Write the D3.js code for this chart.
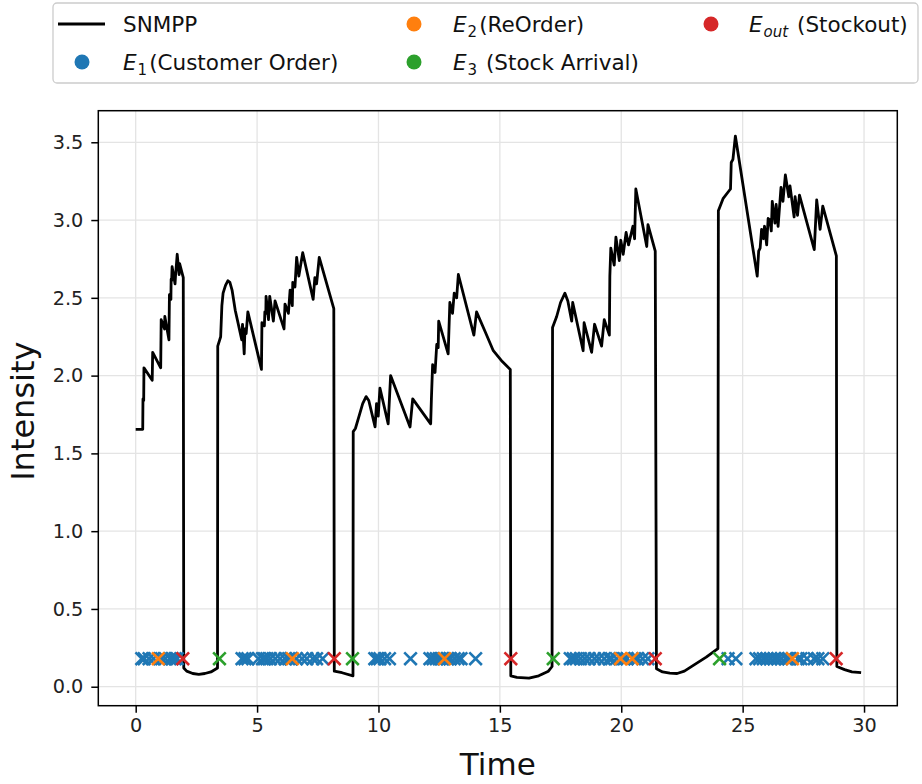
<!DOCTYPE html>
<html>
<head>
<meta charset="utf-8">
<script src="https://cdn.jsdelivr.net/npm/d3@7/dist/d3.min.js"></script>
<style>
  body { margin: 0; background: #fff; }
  text { font-family: "DejaVu Sans", sans-serif; }
</style>
</head>
<body>
<svg id="chart" width="922" height="784"></svg>
<script>
// ---------------- data ----------------
const curveT = [
  0, 0.29, 0.30, 0.33, 0.34, 0.68, 0.70, 1.03, 1.05, 1.19, 1.20, 1.37, 1.39, 1.45, 1.46, 1.48, 1.50, 1.62, 1.64, 1.71, 1.79, 1.81, 1.96,
  1.98, 2.10, 2.35, 2.60, 2.85, 3.10, 3.37,
  3.38, 3.50, 3.55, 3.60, 3.70, 3.80, 3.88, 3.97, 4.10, 4.37, 4.40, 4.47, 4.50, 4.55, 4.62, 5.18, 5.20, 5.30, 5.32, 5.36, 5.37, 5.47, 5.52, 5.67, 5.74, 6.11, 6.15, 6.29, 6.36, 6.45, 6.47, 6.56, 6.63, 6.72, 6.88, 7.31, 7.38, 7.45, 7.56, 8.16,
  8.18, 8.50, 8.95,
  8.96, 9.05, 9.20, 9.35, 9.49, 9.60, 9.86, 9.92, 9.99, 10.06, 10.40, 10.50, 11.30, 11.41, 12.15, 12.18, 12.23, 12.33, 12.40, 12.46, 12.48, 12.87, 12.94, 13.05, 13.12, 13.22, 13.29, 13.93, 14.04, 14.40, 14.73, 15.10, 15.43,
  15.45, 15.70, 16.20, 16.60, 17.00, 17.15,
  17.17, 17.34, 17.50, 17.68, 17.80, 17.96, 18.00, 18.43, 18.47, 18.78, 18.90, 19.19, 19.30, 19.51, 19.53, 19.57, 19.71, 19.78, 19.92, 19.98, 20.08, 20.20, 20.30, 20.48, 20.55, 20.60, 21.05, 21.10, 21.40,
  21.45, 21.70, 22.00, 22.30, 22.60, 23.00, 23.50, 23.98,
  24.00, 24.20, 24.45, 24.50, 24.53, 24.60, 24.70, 25.60, 25.66, 25.72, 25.78, 25.86, 25.90, 25.99, 26.05, 26.12, 26.18, 26.22, 26.33, 26.38, 26.46, 26.58, 26.66, 26.76, 26.90, 26.95, 27.12, 27.16, 27.26, 27.34, 27.95, 28.05, 28.19, 28.30, 28.86,
  28.88, 29.20, 29.50, 29.88
];
const curveV = [
  1.655, 1.655, 1.85, 1.84, 2.05, 1.97, 2.15, 2.05, 2.36, 2.30, 2.38, 2.23, 2.52, 2.49, 2.62, 2.61, 2.70, 2.59, 2.64, 2.78, 2.65, 2.72, 2.63,
  0.12, 0.10, 0.085, 0.08, 0.085, 0.095, 0.12,
  2.19, 2.25, 2.45, 2.53, 2.58, 2.61, 2.60, 2.55, 2.42, 2.23, 2.33, 2.14, 2.30, 2.27, 2.41, 2.04, 2.34, 2.32, 2.41, 2.40, 2.51, 2.36, 2.51, 2.35, 2.48, 2.30, 2.46, 2.40, 2.55, 2.45, 2.60, 2.57, 2.76, 2.64, 2.79, 2.49, 2.63, 2.59, 2.76, 2.43,
  0.10, 0.09, 0.07,
  1.64, 1.66, 1.74, 1.82, 1.865, 1.84, 1.67, 1.82, 1.74, 1.92, 1.69, 2.00, 1.67, 1.85, 1.69, 1.85, 2.07, 2.02, 2.20, 2.18, 2.35, 2.14, 2.47, 2.40, 2.53, 2.50, 2.65, 2.26, 2.41, 2.28, 2.16, 2.09, 2.04,
  0.07, 0.06, 0.055, 0.07, 0.10, 0.13,
  2.31, 2.38, 2.47, 2.53, 2.48, 2.35, 2.47, 2.16, 2.34, 2.15, 2.33, 2.19, 2.36, 2.26, 2.64, 2.82, 2.71, 2.89, 2.74, 2.87, 2.78, 2.92, 2.84, 2.96, 2.88, 3.20, 2.83, 2.97, 2.80,
  0.115, 0.095, 0.087, 0.085, 0.10, 0.14, 0.19, 0.245,
  3.06, 3.14, 3.19, 3.20, 3.37, 3.39, 3.54, 2.64, 2.80, 2.82, 2.94, 2.88, 2.96, 2.84, 3.01, 3.00, 2.93, 3.12, 2.98, 3.10, 2.96, 3.21, 3.12, 3.29, 3.15, 3.22, 3.02, 3.15, 3.03, 3.16, 2.81, 3.13, 2.94, 3.09, 2.77,
  0.13, 0.11, 0.095, 0.09
];
const eventLevel = 0.18;
const e1Times = [
  0.25, 0.35, 0.55, 0.73, 1.07, 1.22, 1.41, 1.50, 1.62, 1.71,
  4.38, 4.50, 4.62, 5.05, 5.22, 5.30, 5.40, 5.55, 5.75, 5.95, 6.15, 6.30, 6.40, 6.62, 6.85, 7.05, 7.30, 7.45, 7.70,
  9.85, 9.95, 10.06, 10.25, 10.45, 11.32, 12.12, 12.25, 12.38, 12.50, 12.62, 12.85, 12.95, 13.12, 13.28, 13.40, 14.00,
  17.90, 18.02, 18.15, 18.32, 18.50, 18.68, 18.90, 19.08, 19.30, 19.50, 19.60, 19.80, 20.12, 20.24, 20.55, 20.68, 20.88, 21.10,
  24.40, 24.72, 25.55, 25.70, 25.85, 26.00, 26.15, 26.30, 26.45, 26.60, 26.78, 26.90, 27.28, 27.40, 27.65, 27.95, 28.10, 28.30
];
const e2Times = [0.93, 6.45, 12.72, 19.97, 20.45, 27.05];
const e3Times = [3.45, 8.93, 17.20, 24.05];
const eOutTimes = [1.94, 8.18, 15.45, 21.40, 28.85];
const xTicks = [0, 5, 10, 15, 20, 25, 30];
const yTicks = [0, 0.5, 1.0, 1.5, 2.0, 2.5, 3.0, 3.5];
const legendItems = [
  {key: "snmpp", col: 0, row: 0, sub: "", rest: "SNMPP"},
  {key: "e1", col: 0, row: 1, sub: "1", rest: "(Customer Order)"},
  {key: "e2", col: 1, row: 0, sub: "2", rest: "(ReOrder)"},
  {key: "e3", col: 1, row: 1, sub: "3", rest: " (Stock Arrival)"},
  {key: "eout", col: 2, row: 0, sub: "out", rest: " (Stockout)"}
];

// ---------------- layout ----------------
const colors = {e1: "#1f77b4", e2: "#ff7f0e", e3: "#2ca02c", eout: "#d62728"};
const plot = {left: 98.3, right: 897.3, top: 110.7, bottom: 705.7};
const svg = d3.select("#chart");

const x = d3.scaleLinear().domain([-1.54, 31.37]).range([plot.left, plot.right]);
const y = d3.scaleLinear().domain([-0.122, 3.703]).range([plot.bottom, plot.top]);

// grid
const g = svg.append("g");
g.selectAll("line.vg").data(xTicks).join("line")
  .attr("x1", d => x(d)).attr("x2", d => x(d))
  .attr("y1", plot.top).attr("y2", plot.bottom)
  .attr("stroke", "#e4e4e4").attr("stroke-width", 1.3);
g.selectAll("line.hg").data(yTicks).join("line")
  .attr("y1", d => y(d)).attr("y2", d => y(d))
  .attr("x1", plot.left).attr("x2", plot.right)
  .attr("stroke", "#e4e4e4").attr("stroke-width", 1.3);

// curve
const pts = curveT.map((t, i) => [t, curveV[i]]);
svg.append("path")
  .datum(pts)
  .attr("fill", "none")
  .attr("stroke", "#000")
  .attr("stroke-width", 2.8)
  .attr("stroke-linejoin", "round")
  .attr("d", d3.line().x(d => x(d[0])).y(d => y(d[1])));

// event markers (x shapes)
const ms = 6.3;
function drawX(times, color) {
  const grp = svg.append("g");
  grp.selectAll("path").data(times).join("path")
    .attr("transform", d => `translate(${x(d)},${y(eventLevel)})`)
    .attr("d", `M${-ms},${-ms}L${ms},${ms}M${-ms},${ms}L${ms},${-ms}`)
    .attr("stroke", color).attr("stroke-width", 2.6).attr("fill", "none");
}
drawX(e1Times, colors.e1);
drawX(e2Times, colors.e2);
drawX(e3Times, colors.e3);
drawX(eOutTimes, colors.eout);

// axes
const xAxis = d3.axisBottom(x).tickValues(xTicks).tickSize(7).tickPadding(6).tickFormat(d3.format("d"));
const yAxis = d3.axisLeft(y).tickValues(yTicks).tickSize(7).tickPadding(8).tickFormat(d3.format(".1f"));
const gx = svg.append("g").attr("transform", `translate(0,${plot.bottom})`).call(xAxis);
const gy = svg.append("g").attr("transform", `translate(${plot.left},0)`).call(yAxis);
[gx, gy].forEach(a => {
  a.select(".domain").remove();
  a.selectAll(".tick line").attr("stroke", "#000").attr("stroke-width", 1.5);
  a.selectAll(".tick text").attr("fill", "#222").style("font-size", "19.3px").style("font-family", "DejaVu Sans");
});

// frame
svg.append("rect")
  .attr("x", plot.left).attr("y", plot.top)
  .attr("width", plot.right - plot.left).attr("height", plot.bottom - plot.top)
  .attr("fill", "none").attr("stroke", "#000").attr("stroke-width", 1.5);

// axis labels
svg.append("text").attr("x", (plot.left + plot.right) / 2).attr("y", 775)
  .attr("text-anchor", "middle").style("font-size", "31px").attr("fill", "#111").text("Time");
svg.append("text").attr("transform", `translate(34,${(plot.top + plot.bottom) / 2 + 3}) rotate(-90)`)
  .attr("text-anchor", "middle").style("font-size", "32px").attr("fill", "#111").text("Intensity");

// legend
svg.append("rect").attr("x", 53).attr("y", 3).attr("width", 865).attr("height", 80)
  .attr("rx", 4).attr("fill", "#fff").attr("stroke", "#cccccc").attr("stroke-width", 1.3);
const colX = [82, 414, 711];
const textX = [123, 453, 749];
const rowY = [24, 62];
const lg = svg.append("g").style("font-size", "21.5px");
legendItems.forEach(it => {
  const cy = rowY[it.row];
  if (it.key === "snmpp") {
    lg.append("line").attr("x1", 58).attr("x2", 105).attr("y1", cy).attr("y2", cy)
      .attr("stroke", "#000").attr("stroke-width", 2.8);
  } else {
    lg.append("circle").attr("cx", colX[it.col]).attr("cy", cy).attr("r", 7.5).attr("fill", colors[it.key]);
  }
  const t = lg.append("text").attr("x", textX[it.col]).attr("y", cy + 7.5).attr("fill", "#111");
  if (it.sub === "") {
    t.text(it.rest);
  } else {
    t.append("tspan").style("font-style", "italic").text("E");
    t.append("tspan").attr("dy", 5).attr("dx", 1)
      .style("font-size", "15px")
      .style("font-style", it.sub === "out" ? "italic" : "normal")
      .text(it.sub);
    t.append("tspan").attr("dy", -5).attr("dx", 2).text(it.rest);
  }
});
</script>
</body>
</html>
